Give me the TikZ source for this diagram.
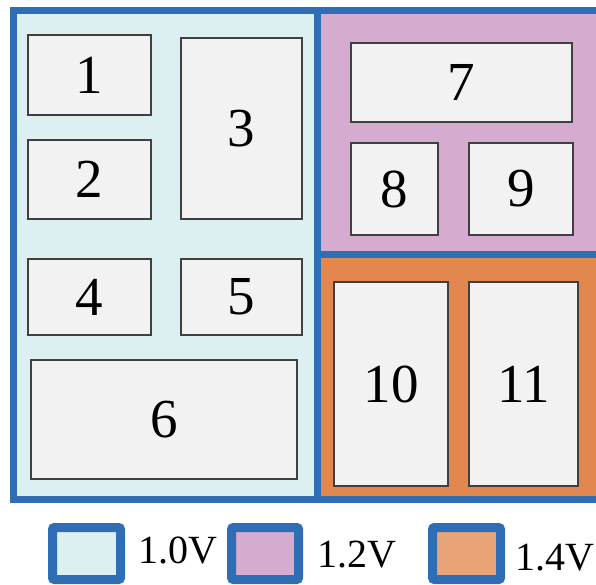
\documentclass[tikz,border=0pt]{standalone}
\usepackage{fontspec}
\setmainfont{Liberation Serif}
\usepackage{xcolor}
\usepackage{tikz}
\usetikzlibrary{positioning}

\definecolor{vblue}{HTML}{2F6EB5}
\definecolor{vone}{HTML}{DCEFF1}
\definecolor{vtwo}{HTML}{D5ABCF}
\definecolor{vfour}{HTML}{E2884F}
\definecolor{vfourleg}{HTML}{E8A476}
\definecolor{blkfill}{HTML}{F2F2F2}
\definecolor{blkline}{HTML}{404040}

\begin{document}
\begin{tikzpicture}[
    x=1pt, y=-1pt,
    blk/.style={draw=blkline, fill=blkfill, line width=1.3pt, inner sep=0pt, font=\fontsize{55}{60}\selectfont},
    frame/.style={draw=vblue, line width=7pt},
    legbox/.style={draw=vblue, line width=9pt, rounded corners=2pt},
    legtxt/.style={anchor=base west, inner sep=0pt, font=\fontsize{40}{44}\selectfont}
  ]
    \useasboundingbox (0,0) rectangle (596,585);
    \begin{scope}
    \clip (0,0) rectangle (596,585);
    % voltage islands
    \fill[vone] (13.5,10.5) rectangle (317,499);
    \fill[vtwo] (317,10.5) rectangle (600,254.5);
    \fill[vfour] (317,254.5) rectangle (600,499);
    \draw[frame] (13.5,10.5) rectangle (603,499);
    \draw[frame] (317,10.5) -- (317,499);
    \draw[frame] (317,254.5) -- (603,254.5);
    \end{scope}
    % blocks
    \node[blk, minimum width=123pt, minimum height=80pt] (b1) at (89.5,75) {1};
    \node[blk, minimum width=123pt, minimum height=79pt] (b2) at (89.5,179.5) {2};
    \node[blk, minimum width=121pt, minimum height=181pt] (b3) at (241.5,128.5) {3};
    \node[blk, minimum width=123pt, minimum height=76pt] (b4) at (89.5,297) {4};
    \node[blk, minimum width=121pt, minimum height=76pt] (b5) at (241.5,297) {5};
    \node[blk, minimum width=266pt, minimum height=119pt] (b6) at (164,419.5) {6};
    \node[blk, minimum width=221pt, minimum height=79pt] (b7) at (461.5,82.5) {7};
    \node[blk, minimum width=87pt, minimum height=92pt] (b8) at (394.5,189) {8};
    \node[blk, minimum width=104pt, minimum height=92pt] (b9) at (521,189) {9};
    \node[blk, minimum width=114pt, minimum height=204pt] (b10) at (391,384) {10};
    \node[blk, minimum width=109pt, minimum height=204pt] (b11) at (523.5,384) {11};
    % legend
    \draw[legbox, fill=vone] (52.5,527.5) rectangle (120.5,579.5);
    \node[legtxt] (l1) at (138,563) {1.0V};
    \draw[legbox, fill=vtwo] (231.5,527.5) rectangle (298.5,579.5);
    \node[legtxt] (l2) at (317,567) {1.2V};
    \draw[legbox, fill=vfourleg] (432.5,527.5) rectangle (500.5,579.5);
    \node[legtxt] (l3) at (515,570) {1.4V};
  \end{tikzpicture}
\end{document}
